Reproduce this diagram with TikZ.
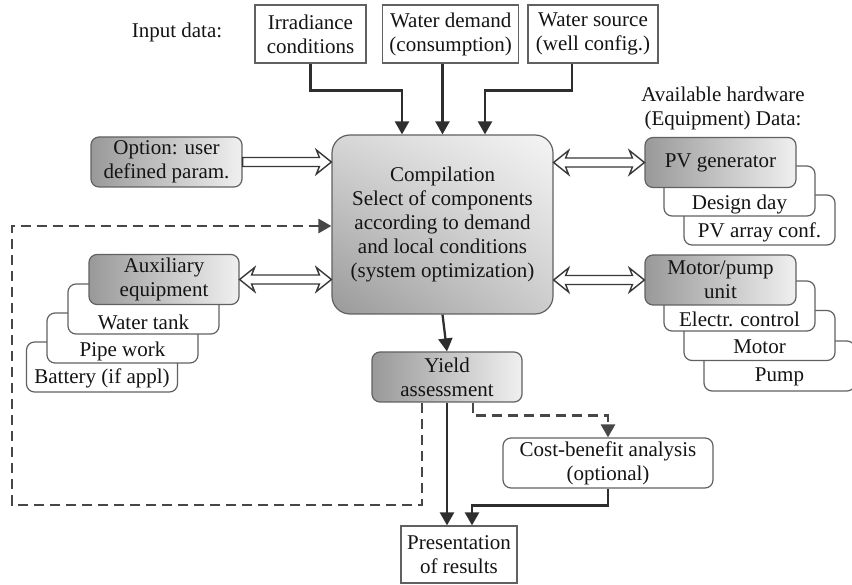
\documentclass[tikz,border=0pt]{standalone}
\usepackage{fontspec}
\setmainfont{Liberation Serif}
\usetikzlibrary{arrows.meta,calc,shadings}

% hollow double-headed arrow between two points on one horizontal line
\newcommand\hollowboth[2]{%
  \draw[hollow] let \p1=#1, \p2=#2 in
    (\x1,\y1) -- (\x1+15pt,\y1+12pt) -- (\x1+12pt,\y1+4.5pt) -- (\x2-12pt,\y1+4.5pt)
    -- (\x2-15pt,\y1+12pt) -- (\x2,\y1) -- (\x2-15pt,\y1-12pt) -- (\x2-12pt,\y1-4.5pt)
    -- (\x1+12pt,\y1-4.5pt) -- (\x1+15pt,\y1-12pt) -- cycle;}
% hollow single-headed arrow, head at the second point
\newcommand\hollowone[2]{%
  \draw[hollow] let \p1=#1, \p2=#2 in
    (\x1,\y1+4.5pt) -- (\x2-12pt,\y1+4.5pt) -- (\x2-15pt,\y1+12pt) -- (\x2,\y1)
    -- (\x2-15pt,\y1-12pt) -- (\x2-12pt,\y1-4.5pt) -- (\x1,\y1-4.5pt) -- cycle;}

\begin{document}
\begin{tikzpicture}[x=1pt,y=-1pt,
  font=\fontsize{21}{24}\selectfont, text=black!92,
  box/.style={draw=black!62, line width=1.2pt, fill=white, inner sep=0pt, align=center},
  wbox/.style={box, rounded corners=8pt, minimum width=151pt, minimum height=50pt},
  gbox/.style={box, rounded corners=8pt, minimum width=151pt, minimum height=50pt,
    left color=black!40, right color=black!6},
  arr/.style={draw=black!82, line width=2.3pt, -{Triangle[length=13pt,width=14pt]}},
  darr/.style={draw=black!72, line width=2.8pt, dash pattern=on 10pt off 6pt,
    -{Triangle[length=13pt,width=14pt]}},
  hollow/.style={draw=black!78, line width=1.4pt, fill=white, line join=miter},
  lbl/.style={inner sep=0pt, align=center}
]
\useasboundingbox (0,0) rectangle (852,585);

% ---------- input data ----------
\node[lbl] (inlbl) at (177,32) {Input data:};
\node[box, minimum width=111pt, minimum height=58pt] (irr) at (310.5,34) {Irradiance\\conditions};
\node[box, minimum width=136pt, minimum height=58pt] (wd) at (450.7,34) {Water demand\\(consumption)};
\node[box, minimum width=130pt, minimum height=58pt] (ws) at (593,34) {Water source\\(well config.)};

% ---------- central compilation ----------
\node[box, rounded corners=18pt, minimum width=221pt, minimum height=179pt,
      shading=bilinear interpolation,
      upper left=black!16, upper right=black!4, lower left=black!40, lower right=black!20]
  (comp) at (442.5,224.5) {Compilation\\Select of components\\according to demand\\and local conditions\\(system optimization)};

% ---------- left side ----------
\node[gbox] (opt) at (166.5,162) {Option: user\\defined param.};

\node[wbox] (bat) at (102,367) {};
\node[lbl] (batt) at (102,378) {Battery (if appl)};
\node[wbox] (pipe) at (122.5,338) {};
\node[lbl] (pipet) at (122.5,351) {Pipe work};
\node[wbox] (tank) at (143.5,309) {};
\node[lbl] (tankt) at (143.5,322) {Water tank};
\node[gbox, minimum width=150pt] (aux) at (164,279.5) {Auxiliary\\equipment};

% ---------- right side ----------
\node[lbl] (hwlbl) at (723,108.5) {Available hardware\\(Equipment) Data:};

\node[wbox] (arr3) at (759.5,220) {};
\node[lbl] (arr3t) at (759.5,232) {PV array conf.};
\node[wbox] (dday) at (739.5,191) {};
\node[lbl] (ddayt) at (739.5,204) {Design day};
\node[gbox] (pv) at (720.5,162.5) {PV generator};

\node[wbox] (pump) at (779.5,366) {};
\node[lbl] (pumpt) at (779.5,377) {Pump};
\node[wbox] (mot) at (759.5,335.5) {};
\node[lbl] (mott) at (759.5,347) {Motor};
\node[wbox] (ctrl) at (739.5,306) {};
\node[lbl] (ctrlt) at (739.5,319) {Electr. control};
\node[gbox] (mp) at (720.5,280) {Motor/pump\\unit};

% ---------- results ----------
\node[gbox, minimum width=150pt] (yield) at (447,377) {Yield\\assessment};
\node[wbox, minimum width=210pt] (cost) at (608,463) {Cost-benefit analysis\\(optional)};
\node[box, minimum width=116pt, minimum height=57pt] (pres) at (459,554.5) {Presentation\\of results};

% ---------- input connectors ----------
\draw[arr] (irr.south) -- ++(0,27) -| ([xshift=-40.5pt]comp.north);
\draw[arr] (comp.north |- wd.south) -- (comp.north);
\draw[arr] ([xshift=-21pt]ws.south) -- ++(0,27) -| ([xshift=42.5pt]comp.north);

% ---------- hollow data-exchange arrows ----------
\hollowone{(opt.east)}{(comp.west |- opt.east)}
\hollowboth{(aux.east)}{(comp.west |- aux.east)}
\hollowboth{(comp.east |- pv.west)}{(pv.west)}
\hollowboth{(comp.east |- mp.west)}{(mp.west)}

% ---------- result connectors ----------
\coordinate (fbl) at (12,505);
\draw[arr] (comp.south) -- (yield.north);
\draw[arr] (yield.south) -- (yield.south |- pres.north);
\draw[darr] ([xshift=26pt]yield.south) -- ++(0,13) -| (cost.north);
\draw[arr] (cost.south) -- ++(0,17) -| ([xshift=13pt]pres.north);
\draw[darr] ([xshift=-25pt]yield.south) |- (fbl) |- ([yshift=-1.5pt]comp.west);
\end{tikzpicture}
\end{document}
